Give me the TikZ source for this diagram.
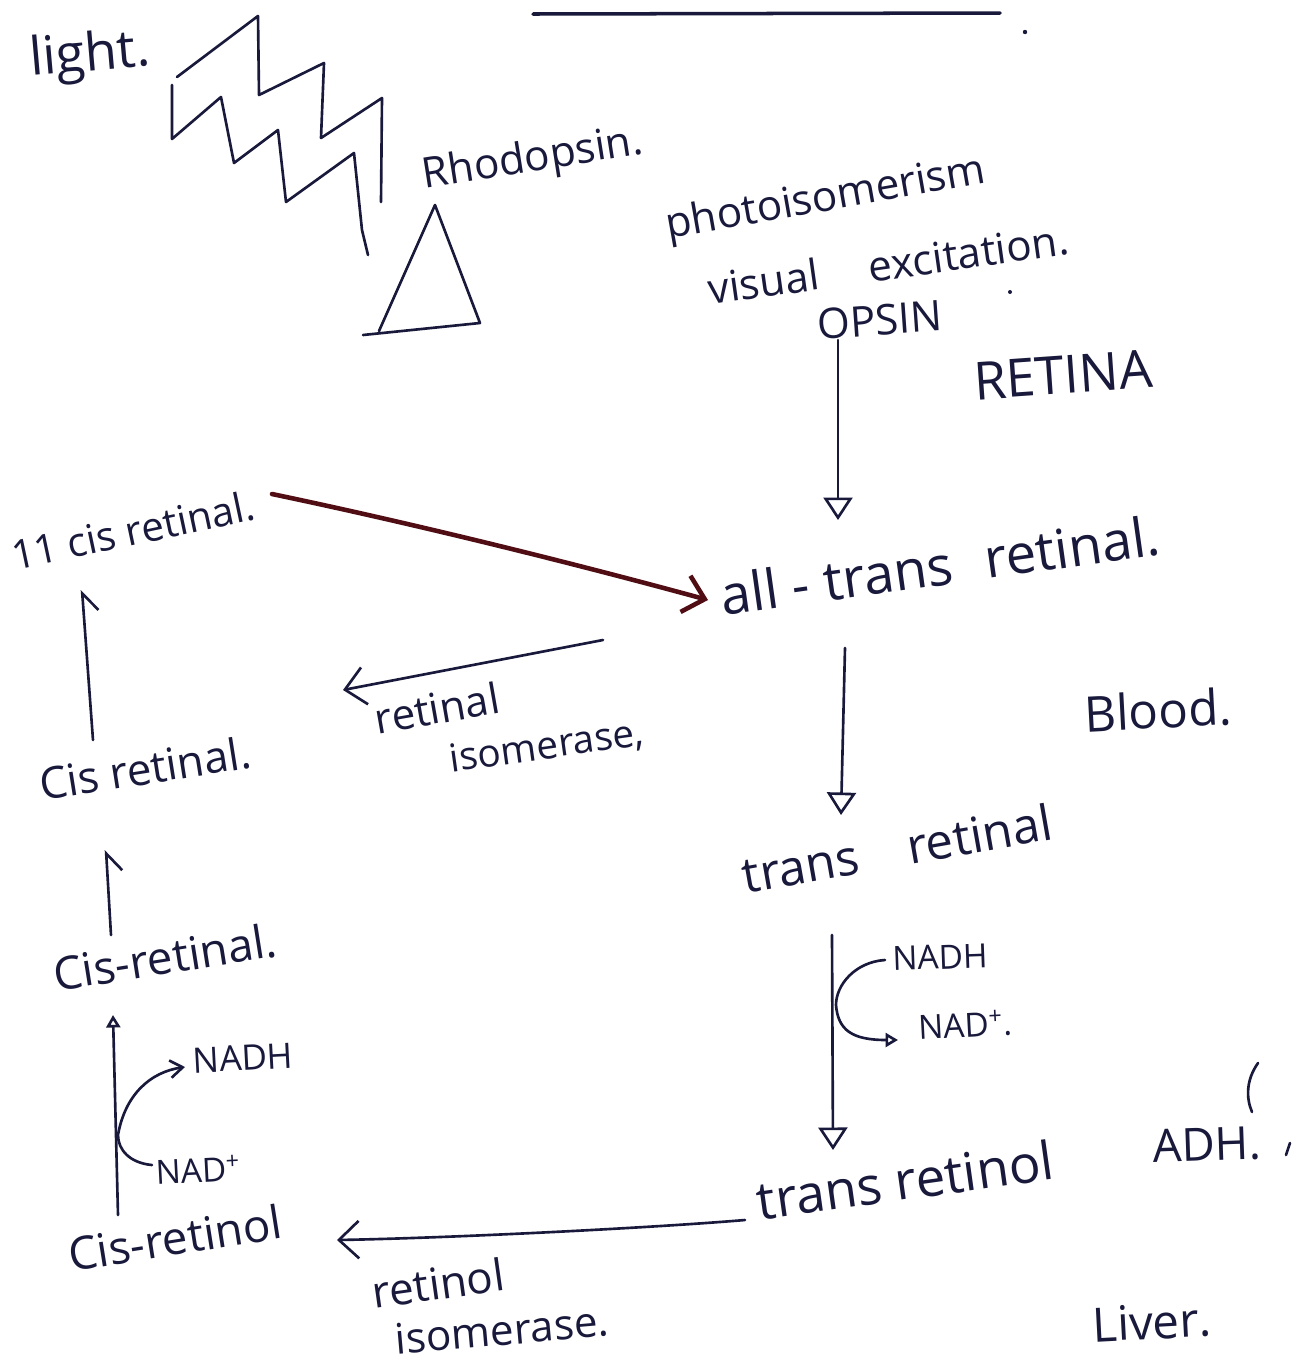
\documentclass[tikz,border=0pt]{standalone}
\usepackage{fontspec}
\setmainfont{Open Sans}
\usetikzlibrary{arrows.meta}
\definecolor{ink}{RGB}{25,25,60}
\definecolor{redink}{RGB}{80,14,20}
\newcommand\hwsize[1]{\fontsize{#1}{#1}\selectfont}
\begin{document}
\begin{tikzpicture}[x=0.02cm,y=-0.02cm,
  txt/.style={text=ink, inner sep=0pt},
  pen/.style={draw=ink, line width=1.5pt, line cap=round, line join=round},
  redpen/.style={draw=redink, line width=2.6pt, line cap=round, line join=round},
  opentip/.style={-{Triangle[open,length=0.45cm,width=0.58cm]}},
  smalltri/.style={-{Triangle[open,length=0.25cm,width=0.28cm]}},
  barb/.style={-{Straight Barb[length=0.4cm,width=0.75cm]}},
  hook/.style={-{Straight Barb[harpoon,swap,length=0.35cm,width=0.6cm]}},
]
\useasboundingbox (0,0) rectangle (1315,1367);
\fill[white] (0,0) rectangle (1315,1367);

% top rule and dots
\draw[pen, line width=2pt] (533,14) -- (1000,13);
\fill[ink] (1025,32) circle (2.2);
\fill[ink] (1010,292) circle (2);

% lightning
\draw[pen] (177,77) -- (258,16) -- (259,95) -- (324,63) -- (321,138) -- (382,98) -- (381,202);
\draw[pen] (172,85) -- (172,139) -- (221,97) -- (234,163) -- (278,130) -- (286,202) -- (354,153) -- (362,230) -- (368,255);

% rhodopsin triangle
\draw[pen] (363,335) -- (480,323) -- (435,205) -- (379,331);

% texts
\node[txt, rotate=5, font=\hwsize{30}] (light) at (90,57) {light.};
\node[txt, rotate=9, font=\hwsize{24}] (rhodopsin) at (533,160) {Rhodopsin.};
\node[txt, rotate=10, font=\hwsize{24}] (photo) at (826,200) {photoisomerism};
\node[txt, rotate=8, font=\hwsize{24}] (visual) at (888,264) {visual\hspace{1.2em}excitation.};
\node[txt, rotate=4, font=\hwsize{24}] (opsin) at (880,320) {OPSIN};
\node[txt, rotate=4, font=\hwsize{30}] (retina) at (1063,375) {RETINA};
\node[txt, rotate=12, font=\hwsize{23}] (cis11) at (133,530) {11 cis retinal.};
\node[txt, rotate=8, font=\hwsize{31}] (alltrans) at (940,565) {all - trans\hspace{0.6em}retinal.};
\node[txt, rotate=10, font=\hwsize{24}] (risoA) at (437,708) {retinal};
\node[txt, rotate=8, font=\hwsize{22}] (risoB) at (547,747) {isomerase,};
\node[txt, rotate=9, font=\hwsize{25}] (cisret) at (145,768) {Cis retinal.};
\node[txt, rotate=3, font=\hwsize{28}] (blood) at (1158,710) {Blood.};
\node[txt, rotate=10, font=\hwsize{28}] (transretinal) at (897,848) {trans\hspace{1em}retinal};
\node[txt, rotate=9, font=\hwsize{26}] (cisretinal) at (165,957) {Cis-retinal.};
\node[txt, rotate=2, font=\hwsize{19}] (nadhR) at (940,957) {NADH};
\node[txt, rotate=3, font=\hwsize{19}] (nadR) at (965,1025) {NAD\textsuperscript{+}.};
\node[txt, rotate=8, font=\hwsize{30}] (transretinol) at (905,1180) {trans retinol};
\node[txt, rotate=2, font=\hwsize{26}] (adh) at (1207,1145) {ADH.};
\node[txt, rotate=3, font=\hwsize{20}] (nadhL) at (243,1058) {NADH};
\node[txt, rotate=3, font=\hwsize{19}] (nadL) at (198,1170) {NAD\textsuperscript{+}};
\node[txt, rotate=9, font=\hwsize{26}] (cisretinol) at (175,1238) {Cis-retinol};
\node[txt, rotate=8, font=\hwsize{25}] (rolA) at (438,1283) {retinol};
\node[txt, rotate=5, font=\hwsize{24}] (rolB) at (502,1330) {isomerase.};
\node[txt, rotate=3, font=\hwsize{27}] (liver) at (1152,1322) {Liver.};

% connector end points
\coordinate (opsA) at (838,340);
\coordinate (opsB) at (838,520);
\coordinate (redA) at (272,494);
\coordinate (redB) at (708,600);
\coordinate (risA) at (603,640);
\coordinate (risB) at (343,690);
\coordinate (up1A) at (93,740);
\coordinate (up1B) at (82,590);
\coordinate (atA) at (845,648);
\coordinate (atB) at (841,815);
\coordinate (up2A) at (111,935);
\coordinate (up2B) at (106,850);
\coordinate (trA) at (832,935);
\coordinate (trB) at (833,1150);
\coordinate (up3A) at (118,1215);
\coordinate (up3B) at (113,1015);
\coordinate (rolIA) at (745,1220);
\coordinate (rolIB) at (337,1240);

% connectors
\draw[pen, opentip] (opsA) -- (opsB);
\draw[redpen, barb] (redA) .. controls (420,525) and (580,565) .. (redB);
\draw[pen, barb] (risA) -- (risB);
\draw[pen, hook] (up1A) -- (up1B);
\draw[pen, opentip] (atA) -- (atB);
\draw[pen, hook] (up2A) -- (up2B);
\draw[pen, opentip] (trA) -- (trB);
\draw[pen, smalltri] (up3A) -- (up3B);
\draw[pen, barb] (rolIA) .. controls (650,1228) and (450,1238) .. (rolIB);

% cofactor curves
\draw[pen, smalltri] (885,960) .. controls (855,962) and (836,985) .. (836,1005)
  .. controls (838,1030) and (852,1040) .. (898,1040);
\draw[pen, -{Straight Barb[length=0.25cm,width=0.35cm]}] (152,1165) .. controls (130,1163) and (118,1150) .. (118,1135)
  .. controls (125,1095) and (150,1072) .. (185,1067);

% small marks near ADH
\draw[pen] (1258,1063) .. controls (1246,1080) and (1246,1098) .. (1252,1112);
\draw[pen] (1290,1143) -- (1286,1155);
\end{tikzpicture}
\end{document}
